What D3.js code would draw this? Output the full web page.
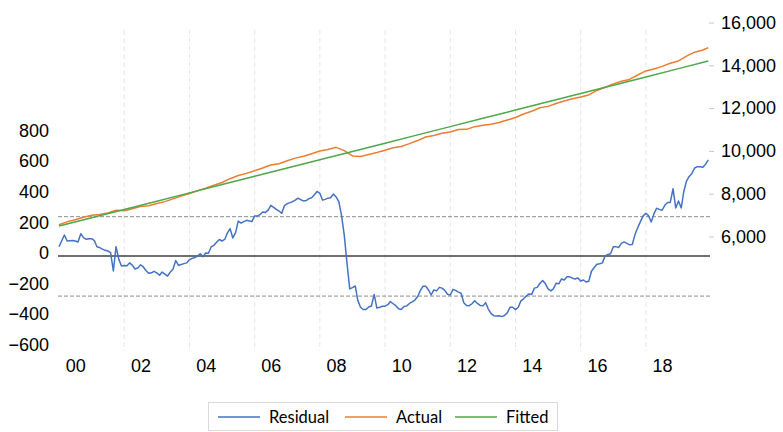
<!DOCTYPE html>
<html lang="en">
<head>
    <meta charset="UTF-8">
    <title>Residual, Actual, Fitted</title>
    <script src="https://d3js.org/d3.v7.min.js"></script>
    <style>
        body { margin: 0; background: #fff; }
        svg { font-family: Lato, "Liberation Sans", sans-serif; }
        .line { fill: none; stroke-width: 1.5; stroke-linejoin: round; }
        .axis text { fill: #000; font-size: 18px; }
    </style>
</head>
<body>
    <svg width="783" height="432"></svg>
    <script>
        // monthly residual, Jan 2000 .. Dec 2019 (left axis)
        const residual = [
            61, 100, 137, 98, 100, 102, 98, 92, 146, 120, 109, 113,
            113, 100, 60, 55, 45, 37, 33, 22, -98, 61, -22, -65,
            -62, -63, -45, -60, -85, -78, -58, -70, -95, -113, -110, -100,
            -110, -126, -105, -118, -131, -105, -87, -30, -62, -55, -50, -45,
            -25, -15, -11, 0, 15, -4, 20, 18, 60, 70, 90, 108,
            98, 110, 150, 179, 118, 153, 228, 215, 225, 233, 229, 225,
            262, 262, 270, 288, 285, 300, 331, 318, 305, 294, 279, 330,
            342, 349, 355, 365, 378, 368, 360, 362, 375, 381, 400, 422,
            410, 365, 370, 378, 381, 405, 386, 355, 262, 135, -50, -215,
            -207, -196, -290, -335, -350, -350, -333, -327, -251, -340, -335, -328,
            -328, -318, -298, -312, -325, -345, -350, -330, -326, -310, -300, -288,
            -265, -225, -198, -198, -220, -255, -222, -228, -205, -210, -225, -250,
            -255, -218, -225, -236, -243, -305, -323, -325, -312, -292, -310, -323,
            -326, -305, -345, -375, -390, -392, -390, -396, -388, -372, -335, -335,
            -350, -335, -295, -280, -262, -248, -251, -210, -205, -180, -160, -180,
            -215, -228, -215, -178, -182, -150, -157, -136, -136, -145, -150, -143,
            -163, -157, -170, -165, -100, -75, -54, -51, -45, 0, 10, 15,
            61, 61, 55, 83, 92, 83, 74, 75, 140, 185, 225, 262,
            279, 262, 222, 275, 312, 305, 299, 331, 350, 350, 440, 314,
            360, 314, 420, 490, 520, 540, 575, 584, 584, 580, 600, 628
        ];
        // quarterly actual (Jan, Apr, Jul, Oct), last point Dec 2019 (right axis)
        const actual = [
            6551, 6685, 6782, 6900,
            6990, 7029, 7104, 7228,
            7202, 7301, 7400, 7441,
            7541, 7630, 7758, 7886,
            8013, 8135, 8252, 8398,
            8524, 8702, 8848, 8949,
            9075, 9198, 9338, 9397,
            9542, 9662, 9754, 9871,
            9997, 10062, 10167, 10012,
            9767, 9736, 9835, 9924,
            10033, 10146, 10205, 10341,
            10483, 10647, 10720, 10828,
            10880, 10996, 11006, 11133,
            11196, 11244, 11326, 11440,
            11559, 11726, 11852, 12019,
            12081, 12215, 12333, 12441,
            12521, 12616, 12824, 12974,
            13132, 13251, 13339, 13546,
            13737, 13830, 13951, 14098,
            14205, 14432, 14614, 14715,
            14828
        ];
        // fitted trend, each January, last point Dec 2019 (right axis)
        const fitted = [
            6490, 6877, 7264, 7651, 8038, 8426, 8813, 9200, 9587, 9974,
            10361, 10748, 11135, 11522, 11909, 12296, 12684, 13071, 13458, 13845,
            14200
        ];
        const bands = [257, -262];
        const leftTicks = [-600, -400, -200, 0, 200, 400, 600, 800];
        const rightTicks = [6000, 8000, 10000, 12000, 14000, 16000];
        const labelYears = [2000, 2002, 2004, 2006, 2008, 2010, 2012, 2014, 2016, 2018];
        const xLabels = ["00", "02", "04", "06", "08", "10", "12", "14", "16", "18"];
        const gridYears = [2002, 2004, 2006, 2008, 2010, 2012, 2014, 2016, 2018];
        const seriesNames = ["Residual", "Actual", "Fitted"];
        const colors = ["#4472c4", "#ed7d31", "#4ea74a"];

        const svg = d3.select("svg");
        const start = new Date(2000, 0, 1), end = new Date(2019, 11, 1);
        const month = i => d3.timeMonth.offset(start, Math.min(i, 239));

        const x = d3.scaleTime().domain([start, end]).range([59, 708.3]);
        const yL = d3.scaleLinear().domain([-600, 800]).range([347.8, 133.6]);
        const yR = d3.scaleLinear().domain([6000, 16000]).range([236.5, 22.5]);

        // vertical gridlines
        svg.append("g").selectAll("line")
            .data(gridYears)
            .join("line")
            .attr("x1", d => x(new Date(d, 0, 1))).attr("x2", d => x(new Date(d, 0, 1)))
            .attr("y1", 30).attr("y2", 351)
            .attr("stroke", "#e6e6e6").attr("stroke-dasharray", "5,3");

        // +/- band lines and zero line
        svg.append("g").selectAll("line")
            .data(bands)
            .join("line")
            .attr("x1", 58).attr("x2", 710)
            .attr("y1", d => yL(d)).attr("y2", d => yL(d))
            .attr("stroke", "#8c8c8c").attr("stroke-dasharray", "4,2");
        svg.append("line")
            .attr("x1", 58).attr("x2", 710)
            .attr("y1", yL(0)).attr("y2", yL(0))
            .attr("stroke", "#404040").attr("stroke-width", 1.3);

        // axes
        const gx = svg.append("g").attr("class", "axis")
            .attr("transform", "translate(0,356)")
            .call(d3.axisBottom(x)
                .tickValues(labelYears.map(d => new Date(d, 6, 1)))
                .tickFormat((d, i) => xLabels[i])
                .tickSize(0).tickPadding(3));
        gx.select(".domain").remove();

        const gl = svg.append("g").attr("class", "axis")
            .attr("transform", "translate(52,0)")
            .call(d3.axisLeft(yL).tickValues(leftTicks).tickSize(0).tickPadding(3));
        gl.select(".domain").remove();
        gl.selectAll("text").attr("y", -3);

        const gr = svg.append("g").attr("class", "axis")
            .attr("transform", "translate(709,0)")
            .call(d3.axisRight(yR).tickValues(rightTicks).tickSize(5).tickPadding(7)
                .tickFormat(d3.format(",")));
        gr.select(".domain").remove();
        gr.selectAll(".tick line").attr("stroke", "#c8c8c8");

        // lines
        const lineL = d3.line().x(d => x(d[0])).y(d => yL(d[1]));
        const lineR = d3.line().x(d => x(d[0])).y(d => yR(d[1]));

        svg.append("path")
            .datum(actual.map((v, i) => [month(i * 3), v]))
            .attr("class", "line").attr("stroke", colors[1]).attr("d", lineR);
        svg.append("path")
            .datum(fitted.map((v, i) => [month(i * 12), v]))
            .attr("class", "line").attr("stroke", colors[2]).attr("d", lineR);
        svg.append("path")
            .datum(residual.map((v, i) => [month(i), v]))
            .attr("class", "line").attr("stroke", colors[0]).attr("d", lineL);

        // legend
        const legend = svg.append("g");
        legend.append("rect")
            .attr("x", 208.5).attr("y", 402.5).attr("width", 349).attr("height", 28)
            .attr("fill", "#fff").attr("stroke", "#d9d9d9");
        const lx = [218, 345, 455];
        const item = legend.selectAll("g.item")
            .data(seriesNames)
            .join("g").attr("class", "item")
            .attr("transform", (d, i) => "translate(" + lx[i] + ",417)");
        item.append("line")
            .attr("x1", 0).attr("x2", 42)
            .attr("stroke", (d, i) => colors[i]).attr("stroke-width", 1.5);
        item.append("text")
            .attr("x", 51).attr("dy", "0.35em")
            .attr("font-size", 16.5).attr("fill", "#000")
            .text(d => d);
    </script>
</body>
</html>
